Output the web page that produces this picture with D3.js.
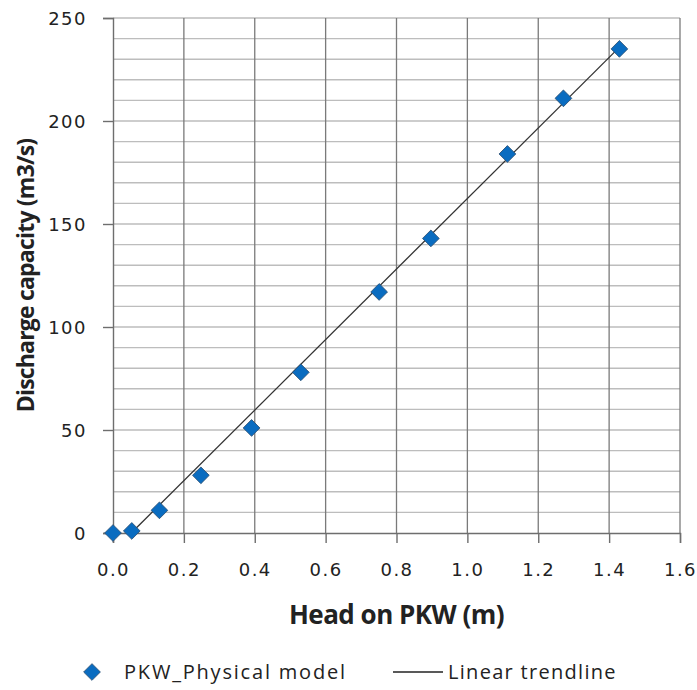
<!DOCTYPE html>
<html>
<head>
<meta charset="utf-8">
<script src="https://cdn.jsdelivr.net/npm/d3@7"></script>
<style>
  body { margin: 0; background: #fff; }
  svg text { fill: #222; }
</style>
</head>
<body>
<div id="chart"></div>
<script>
// measured points, head (m) vs discharge (m3/s)
var headValues = [0.0, 0.053, 0.131, 0.248, 0.391, 0.530, 0.751, 0.897, 1.113, 1.271, 1.429];
var dischargeValues = [0, 1, 11, 28, 51, 78, 117, 143, 184, 211, 235];
// trendline end points
var trendX = [0.055, 1.43];
var trendY = [0.6, 236];
var xTicks = [0, 0.2, 0.4, 0.6, 0.8, 1.0, 1.2, 1.4, 1.6];
var yTicks = [0, 50, 100, 150, 200, 250];
var yMinor = d3.range(0, 251, 10);
var legendLabels = ["PKW_Physical model", "Linear trendline"];

var width = 697, height = 690;
var margin = { left: 113, right: 17, top: 18, bottom: 157 };

var svg = d3.select("#chart")
  .append("svg")
  .attr("width", width)
  .attr("height", height);

var x = d3.scaleLinear().domain([0, 1.6]).range([margin.left, width - margin.right]);
var y = d3.scaleLinear().domain([0, 250]).range([height - margin.bottom, margin.top]);

// horizontal grid (minor, every 10)
svg.append("g")
  .selectAll("line")
  .data(yMinor.filter(function (d) { return d > 0; }))
  .enter()
  .append("line")
  .attr("x1", x(0)).attr("x2", x(1.6))
  .attr("y1", function (d) { return y(d); })
  .attr("y2", function (d) { return y(d); })
  .attr("stroke", "#bdbdbd")
  .attr("stroke-width", 1.4);

// vertical grid
svg.append("g")
  .selectAll("line")
  .data(xTicks.filter(function (d) { return d > 0; }))
  .enter()
  .append("line")
  .attr("x1", function (d) { return x(d); })
  .attr("x2", function (d) { return x(d); })
  .attr("y1", y(0)).attr("y2", y(250))
  .attr("stroke", "#7a7a7a")
  .attr("stroke-width", 1.3);

// axes
var xAxis = d3.axisBottom(x)
  .tickValues(xTicks)
  .tickFormat(d3.format(".1f"))
  .tickSize(10)
  .tickPadding(20);

var yAxis = d3.axisLeft(y)
  .tickValues(yTicks)
  .tickSize(10)
  .tickPadding(16);

var gx = svg.append("g")
  .attr("transform", "translate(0," + y(0) + ")")
  .call(xAxis);

var gy = svg.append("g")
  .attr("transform", "translate(" + x(0) + ",0)")
  .call(yAxis);

[gx, gy].forEach(function (g) {
  g.select(".domain").attr("stroke", "#6e6e6e").attr("stroke-width", 1.4);
  g.selectAll(".tick line").attr("stroke", "#6e6e6e").attr("stroke-width", 1.4);
  g.selectAll(".tick text")
    .attr("fill", "#333")
    .style("font-family", "'DejaVu Sans', Verdana, sans-serif")
    .style("font-size", "18px")
    .style("letter-spacing", "1.5px");
});
gy.selectAll(".tick text").attr("dy", "0.35em");

// trendline
var line = d3.line()
  .x(function (d) { return x(d[0]); })
  .y(function (d) { return y(d[1]); });

svg.append("path")
  .datum(d3.zip(trendX, trendY))
  .attr("d", line)
  .attr("fill", "none")
  .attr("stroke", "#333")
  .attr("stroke-width", 1.3);

// diamonds
var diamond = d3.symbol().type(d3.symbolSquare).size(140);

svg.append("g")
  .selectAll("path")
  .data(d3.zip(headValues, dischargeValues))
  .enter()
  .append("path")
  .attr("d", diamond)
  .attr("transform", function (d) {
    return "translate(" + x(d[0]) + "," + y(d[1]) + ") rotate(45)";
  })
  .attr("fill", "#0a6cc0")
  .attr("stroke", "#2a4f73")
  .attr("stroke-width", 0.8);

// axis titles
svg.append("text")
  .attr("x", (x(0) + x(1.6)) / 2)
  .attr("y", 624)
  .attr("text-anchor", "middle")
  .style("font-family", "'Open Sans', sans-serif")
  .style("font-weight", "bold")
  .style("font-size", "26px")
  .style("letter-spacing", "-0.5px")
  .text("Head on PKW (m)");

svg.append("text")
  .attr("transform", "translate(34," + ((y(0) + y(250)) / 2) + ") rotate(-90)")
  .attr("text-anchor", "middle")
  .style("font-family", "'Open Sans', sans-serif")
  .style("font-weight", "bold")
  .style("font-size", "23px")
  .style("letter-spacing", "-0.8px")
  .text("Discharge capacity (m3/s)");

// legend
var legend = svg.append("g").attr("transform", "translate(0,672)");

legend.append("path")
  .attr("d", diamond)
  .attr("transform", "translate(92,0) rotate(45)")
  .attr("fill", "#0a6cc0")
  .attr("stroke", "#2a4f73")
  .attr("stroke-width", 0.8);

legend.append("text")
  .attr("x", 124).attr("y", 0).attr("dy", "0.35em")
  .style("font-family", "'Open Sans', sans-serif")
  .style("font-size", "20px")
  .style("letter-spacing", "1.8px")
  .text(legendLabels[0]);

legend.append("line")
  .attr("x1", 393).attr("x2", 443)
  .attr("y1", 0).attr("y2", 0)
  .attr("stroke", "#222")
  .attr("stroke-width", 1.3);

legend.append("text")
  .attr("x", 448).attr("y", 0).attr("dy", "0.35em")
  .style("font-family", "'Open Sans', sans-serif")
  .style("font-size", "20px")
  .style("letter-spacing", "1.3px")
  .text(legendLabels[1]);
</script>
</body>
</html>
